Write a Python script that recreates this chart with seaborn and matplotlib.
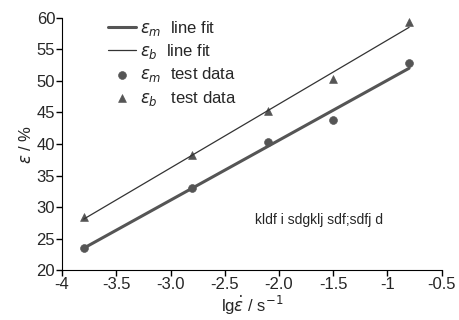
#%% Imports

import numpy as np
import pandas as pd
import matplotlib.pyplot as plt
import seaborn as sns

#%% Data

rate = [-3.8, -2.8, -2.1, -1.5, -0.8]
eps_m = [23.6, 33.0, 40.3, 43.8, 52.8]
eps_b = [28.4, 38.2, 45.3, 50.3, 59.3]

xticks = [-4, -3.5, -3.0, -2.5, -2.0, -1.5, -1, -0.5]
xtick_labels = ['-4', '-3.5', '-3.0', '-2.5', '-2.0', '-1.5', '-1', '-0.5']
yticks = [20, 25, 30, 35, 40, 45, 50, 55, 60]

note = 'kldf i sdgklj sdf;sdfj d'

#%% Style

sns.set_style('ticks')
plt.rcParams['font.family'] = ['Liberation Sans', 'DejaVu Sans']
plt.rcParams['mathtext.fontset'] = 'dejavusans'

#%% Fits

df = pd.DataFrame({'rate': rate, 'm': eps_m, 'b': eps_b})
fit_m = np.polyval(np.polyfit(df['rate'], df['m'], 1), df['rate'])
fit_b = np.polyval(np.polyfit(df['rate'], df['b'], 1), df['rate'])

#%% Plot

fig, ax = plt.subplots(figsize=(4.6, 3.2), dpi=100)

sns.lineplot(x=df['rate'], y=fit_m, ax=ax, color='#555555', lw=2.2,
             label=r'$\varepsilon_m$  line fit')
sns.lineplot(x=df['rate'], y=fit_b, ax=ax, color='#333333', lw=0.9,
             label=r'$\varepsilon_b$  line fit')
sns.scatterplot(x='rate', y='m', data=df, ax=ax, color='#555555', marker='o',
                s=32, edgecolor='#555555', label=r'$\varepsilon_m$  test data')
sns.scatterplot(x='rate', y='b', data=df, ax=ax, color='#555555', marker='^',
                s=32, edgecolor='#555555', label=r'$\varepsilon_b$   test data')

ax.set_xlim(-4, -0.5)
ax.set_ylim(20, 60)
ax.set_xticks(xticks)
ax.set_xticklabels(xtick_labels)
ax.set_yticks(yticks)
ax.tick_params(labelsize=12, length=4, width=1, pad=1, color='black')
for s in ['left', 'bottom']:
    ax.spines[s].set_color('black')
sns.despine(ax=ax)

ax.set_xlabel(r'lg$\dot{\varepsilon}$ / s$^{-1}$', fontsize=12, labelpad=1)
ax.set_ylabel(r'$\varepsilon$ / %', fontsize=12, labelpad=2)

ax.text(-2.22, 28.0, note, fontsize=10, ha='left', va='center')

ax.legend(loc='upper left', bbox_to_anchor=(0.09, 1.04), frameon=False,
          fontsize=12, handlelength=1.7, handletextpad=0.2,
          labelspacing=0.25, borderpad=0.2)

fig.subplots_adjust(left=0.135, right=0.96, bottom=0.155, top=0.945)
fig.savefig('out.png', dpi=100)
